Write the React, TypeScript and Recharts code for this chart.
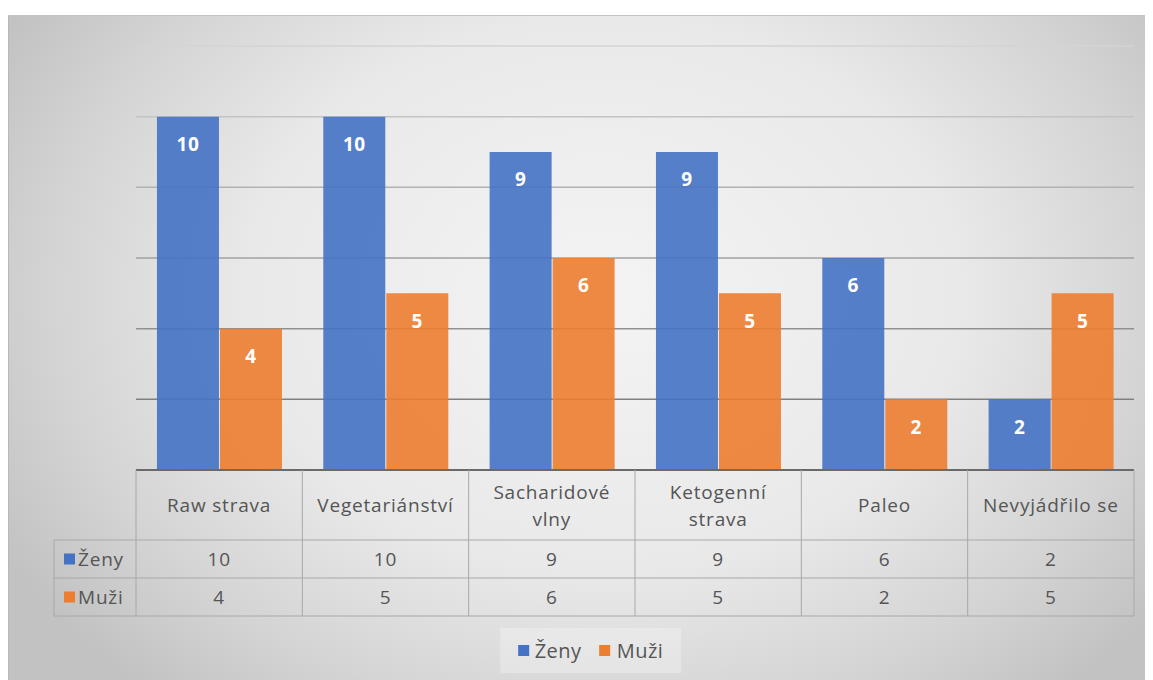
import { BarChart, Bar, XAxis, YAxis, CartesianGrid, Legend, LabelList } from "recharts"

// survey answers per diet type
const categories = ["Raw strava", "Vegetariánství", "Sacharidové vlny", "Ketogenní strava", "Paleo", "Nevyjádřilo se"]
const zeny = [10, 10, 9, 9, 6, 2]
const muzi = [4, 5, 6, 5, 2, 5]
const yTicks = [0, 2, 4, 6, 8, 10, 12]

const series = [
  { key: "zeny", name: "Ženy", color: "#4472C4", values: zeny },
  { key: "muzi", name: "Muži", color: "#ED7D31", values: muzi },
]

const data = categories.map((name, i) => ({ name, zeny: zeny[i], muzi: muzi[i] }))

const W = 1145
const H = 665
const MARGIN = { top: 31, right: 19, left: 128, bottom: 0 }
const BAND = (W - MARGIN.left - MARGIN.right) / categories.length
const HEAD_H = 70
const ROW_H = 38
const TABLE_H = HEAD_H + ROW_H * series.length
const LABEL_COL = 82

const FONT = "'Open Sans', sans-serif"
const TEXT = "#555555"
const LINE = "#a8a8a8"

function wrap(label: string): string[] {
  if (label.length <= 14) return [label]
  const words = label.split(" ")
  return [words.slice(0, -1).join(" "), words[words.length - 1]]
}

// draws one column of the data table under the axis
function TableTick(props: any) {
  const { x, y, index } = props
  const half = BAND / 2
  const lines = wrap(categories[index])
  const left = x - half
  const right = x + half
  return (
    <g fontFamily={FONT} fontSize={19} letterSpacing={0.8} fill={TEXT}>
      {index === 0 && (
        <g>
          <line x1={left} y1={y} x2={left} y2={y + TABLE_H} stroke={LINE} />
          <line x1={left - LABEL_COL} y1={y + HEAD_H} x2={left - LABEL_COL} y2={y + TABLE_H} stroke={LINE} />
          {series.map((s, r) => {
            const top = y + HEAD_H + r * ROW_H
            return (
              <g key={s.key}>
                <line x1={left - LABEL_COL} y1={top} x2={left} y2={top} stroke={LINE} />
                <rect x={left - 72} y={top + ROW_H / 2 - 5.5} width={11} height={11} fill={s.color} />
                <text x={left - 58} y={top + ROW_H / 2} dominantBaseline="central" fill={TEXT}>
                  {s.name}
                </text>
              </g>
            )
          })}
          <line x1={left - LABEL_COL} y1={y + TABLE_H} x2={left} y2={y + TABLE_H} stroke={LINE} />
        </g>
      )}
      <line x1={right} y1={y} x2={right} y2={y + TABLE_H} stroke={LINE} />
      {lines.map((t, k) => (
        <text
          key={k}
          x={x}
          y={y + HEAD_H / 2 + (k - (lines.length - 1) / 2) * 27}
          textAnchor="middle"
          dominantBaseline="central"
          fill={TEXT}
        >
          {t}
        </text>
      ))}
      {series.map((s, r) => {
        const top = y + HEAD_H + r * ROW_H
        return (
          <g key={s.key}>
            <line x1={left} y1={top} x2={right} y2={top} stroke={LINE} />
            <text x={x} y={top + ROW_H / 2} textAnchor="middle" dominantBaseline="central" fill={TEXT}>
              {s.values[index]}
            </text>
          </g>
        )
      })}
      <line x1={left} y1={y + TABLE_H} x2={right} y2={y + TABLE_H} stroke={LINE} />
    </g>
  )
}

function LegendBox() {
  return (
    <div style={{ position: "relative", height: 50 }}>
      <div
        style={{
          position: "absolute",
          top: -2,
          left: "50%",
          transform: "translateX(calc(-50% + 10px))",
          height: 45,
          padding: "0 18px",
          display: "flex",
          alignItems: "center",
          gap: 18,
          background: "rgba(255,255,255,0.28)",
          fontFamily: FONT,
          fontSize: 20,
          letterSpacing: 0.5,
          color: TEXT,
          whiteSpace: "nowrap",
        }}
      >
        {series.map((s) => (
          <span key={s.key} style={{ display: "flex", alignItems: "center" }}>
            <span style={{ width: 11, height: 11, background: s.color, marginRight: 6, display: "inline-block" }} />
            {s.name}
          </span>
        ))}
      </div>
    </div>
  )
}

export default function App() {
  return (
    <div style={{ paddingTop: 7 }}>
      <div
        style={{
          position: "relative",
          width: W,
          height: H,
          background:
            "radial-gradient(ellipse 60% 80% at 52% 42%, #f4f4f4 0%, #e9e9e9 52%, #d4d4d4 80%, #c2c2c2 100%)",
          boxShadow: "inset 0 1px 0 #c4c4c4, inset 1px 0 0 #b8b8b8",
        }}
      >
        <BarChart width={W} height={H} data={data} margin={MARGIN} barCategoryGap="12.6%" barGap={1}>
          <defs>
            <linearGradient id="gridFade" gradientUnits="userSpaceOnUse" x1="0" y1={MARGIN.top} x2="0" y2={455}>
              <stop offset="0%" stopColor="#d4d4d4" />
              <stop offset="100%" stopColor="#6f6f6f" />
            </linearGradient>
          </defs>
          <CartesianGrid vertical={false} stroke="url(#gridFade)" strokeWidth={1.5} />
          <YAxis hide domain={[0, 12]} ticks={yTicks} />
          <XAxis
            dataKey="name"
            height={160}
            interval={0}
            tickSize={0}
            tickMargin={0}
            tickLine={false}
            axisLine={{ stroke: "#6a6a6a", strokeWidth: 2 }}
            tick={<TableTick />}
          />
          <Legend verticalAlign="bottom" height={50} wrapperStyle={{ left: 0, width: W }} content={<LegendBox />} />
          {series.map((s) => (
            <Bar key={s.key} dataKey={s.key} name={s.name} fill={s.color} fillOpacity={0.9} isAnimationActive={false}>
              <LabelList
                dataKey={s.key}
                position="insideTop"
                offset={21}
                fill="#ffffff"
                fontFamily={FONT}
                fontWeight="bold"
                fontSize={19}
                letterSpacing={0.5}
              />
            </Bar>
          ))}
        </BarChart>
      </div>
    </div>
  )
}
